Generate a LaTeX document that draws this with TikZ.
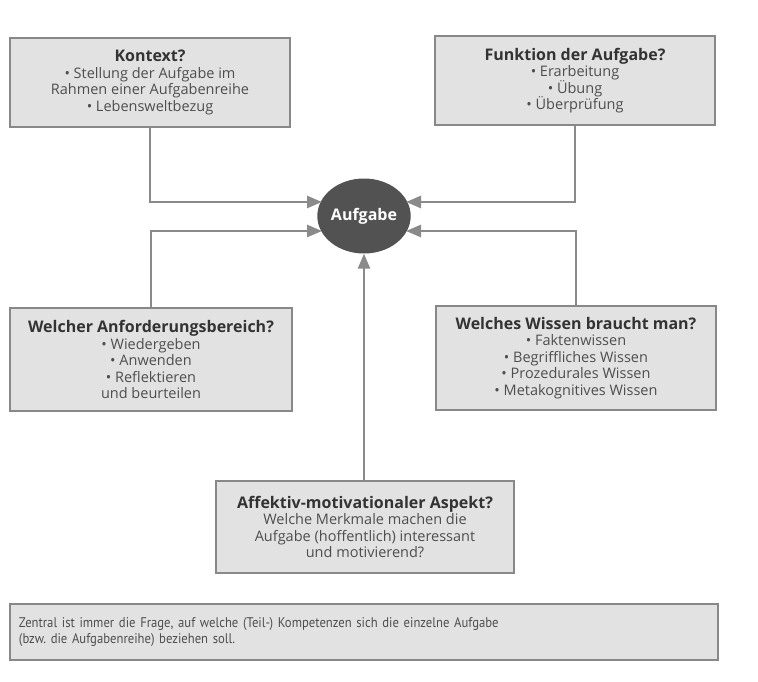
\documentclass[tikz,border=0pt]{standalone}
\usepackage{fontspec}
\setmainfont{Open Sans}
\newfontfamily\condfont[FakeStretch=0.905]{PT Sans}
\usetikzlibrary{arrows.meta,shapes.geometric,calc}
\definecolor{boxfill}{HTML}{E2E2E2}
\definecolor{boxline}{HTML}{888888}
\definecolor{linkc}{HTML}{8A8A8A}
\definecolor{headc}{HTML}{333333}
\definecolor{bodyc}{HTML}{4E4E4E}
\definecolor{circc}{HTML}{525252}
\newcommand{\hd}[1]{{\fontsize{16}{16.5}\selectfont\bfseries\color{headc}#1}}
\begin{document}
\begin{tikzpicture}[x=1pt,y=-1pt,
  infobox/.style={draw=boxline,line width=1.6pt,fill=boxfill,align=center,
    font=\fontsize{14.5}{16.5}\selectfont,text=bodyc,inner sep=2pt},
  link/.style={draw=linkc,line width=2.6pt,
    -{Triangle[length=15pt,width=12pt]}}]
\useasboundingbox (0,0) rectangle (758,681);
\fill[white] (0,0) rectangle (758,681);

\node[infobox,minimum width=280pt,minimum height=89pt] (ktx) at (150,82.5)
  {\hd{Kontext?}\\ • Stellung der Aufgabe im\\ Rahmen einer Aufgabenreihe\\ • Lebensweltbezug};
\node[infobox,minimum width=280pt,minimum height=89pt] (fkt) at (575,80.5)
  {\hd{Funktion der Aufgabe?}\\ • Erarbeitung\\ • Übung\\ • Überprüfung};
\node[infobox,minimum width=282pt,minimum height=103pt] (anf) at (151,359.5)
  {\hd{Welcher Anforderungsbereich?}\\ • Wiedergeben\\ • Anwenden\\ • Reflektieren\\ und beurteilen};
\node[infobox,minimum width=280pt,minimum height=104pt] (wis) at (576,358)
  {\hd{Welches Wissen braucht man?}\\ • Faktenwissen\\ • Begriffliches Wissen\\ • Prozedurales Wissen\\ • Metakognitives Wissen};
\node[infobox,minimum width=298pt,minimum height=92pt] (aff) at (365,527)
  {\hd{Affektiv-motivationaler Aspekt?}\\ Welche Merkmale machen die\\ Aufgabe (hoffentlich) interessant\\ und motivierend?};
\node[infobox,minimum width=708pt,minimum height=56pt,align=left,
  font=\condfont\fontsize{14}{16.5}\selectfont,text width=690pt] (note) at (364,632)
  {Zentral ist immer die Frage, auf welche (Teil-) Kompetenzen sich die einzelne Aufgabe\\ (bzw.\ die Aufgabenreihe) beziehen soll.};

\node[ellipse,fill=circc,minimum width=80pt,minimum height=75pt,inner sep=0pt,
  text=white,font=\fontsize{16}{18}\selectfont\bfseries] (auf) at (364,216) {Aufgabe};

\coordinate (tl1) at (322,202);
\coordinate (tl2) at (322,231);
\coordinate (tr1) at (406,202);
\coordinate (tr2) at (406,231);

\draw[link] (ktx.south) |- (tl1);
\draw[link] (anf.north) |- (tl2);
\draw[link] (fkt.south) |- (tr1);
\draw[link] (wis.north) |- (tr2);
\draw[link] (aff.north -| auf.south) -- (auf.south);
\end{tikzpicture}
\end{document}
